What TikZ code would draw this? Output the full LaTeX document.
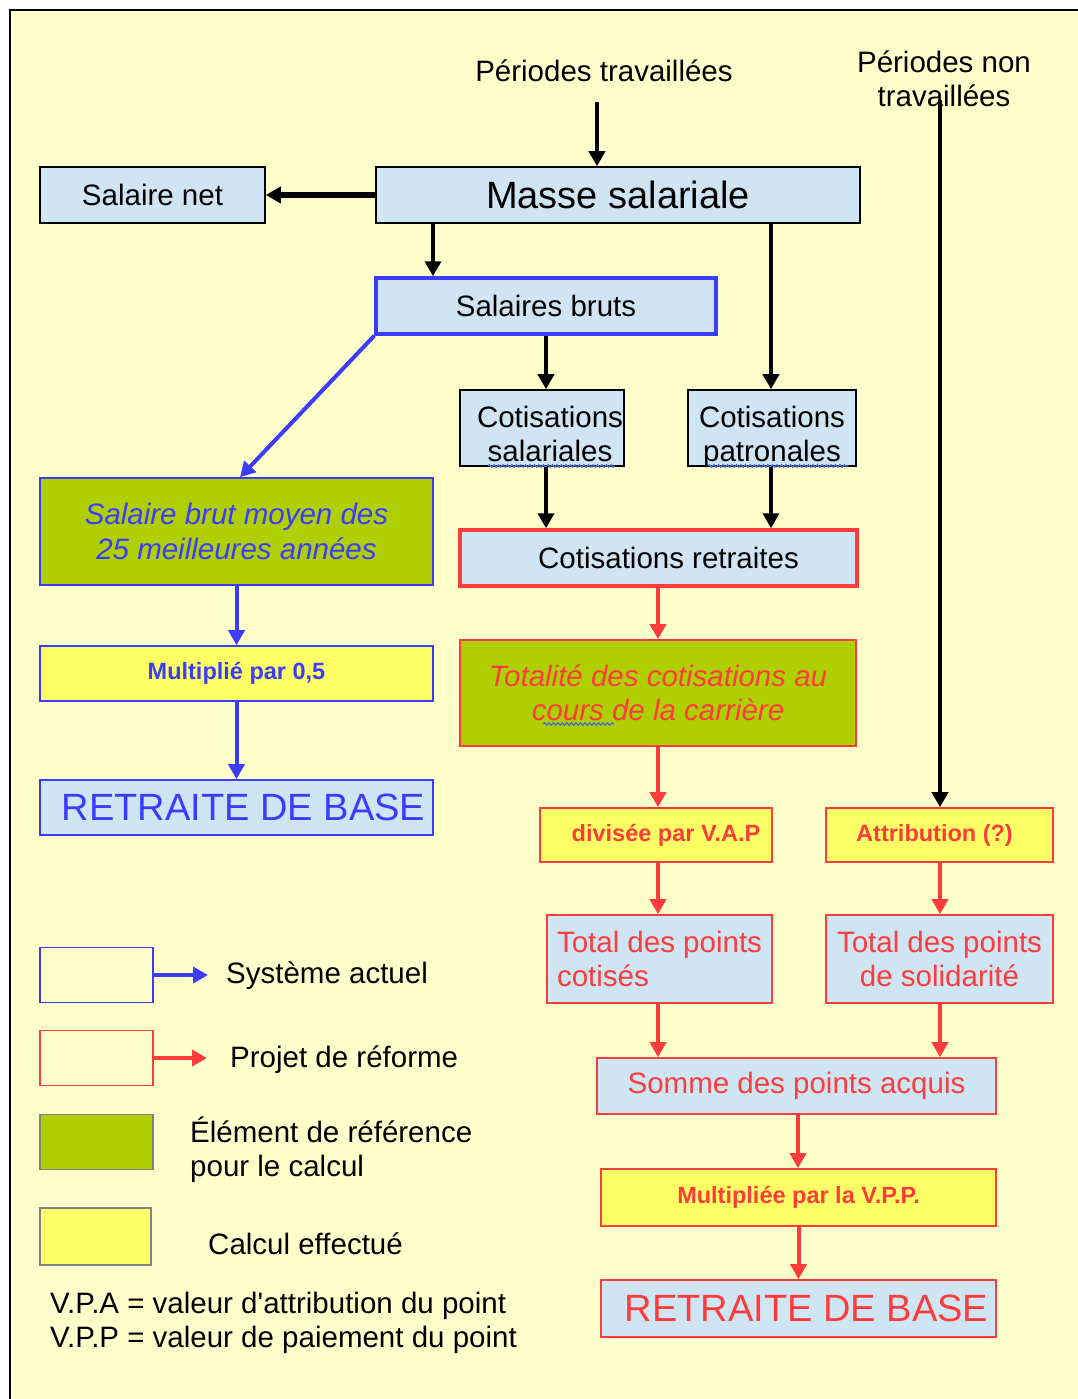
\documentclass[tikz,border=0pt]{standalone}
\usepackage{fontspec}
\setmainfont{Liberation Sans}
\newfontfamily\apos{Liberation Sans}
\usetikzlibrary{arrows.meta,decorations.pathmorphing}

\definecolor{fond}{RGB}{255,255,204}
\definecolor{bleuclair}{RGB}{207,229,244}
\definecolor{vert}{RGB}{176,207,0}
\definecolor{jaune}{RGB}{255,255,102}
\definecolor{bleu}{RGB}{60,60,255}
\definecolor{rouge}{RGB}{255,60,60}
\definecolor{gris}{RGB}{130,130,130}
\definecolor{souligne}{RGB}{70,110,210}

\newcommand{\txtnormal}{\fontsize{29.5}{34.5}\selectfont}
\newcommand{\txtgrand}{\fontsize{38}{44}\selectfont}
\newcommand{\txtcalcul}{\fontsize{23.5}{28}\selectfont\bfseries}
\newcommand{\deuxlignes}[2]{\raisebox{-16pt}[0pt][0pt]{\begin{tabular}{@{}c@{}}#1\\#2\end{tabular}}}

\tikzstyle{block} = [rectangle, draw=black, line width=1.6pt, fill=bleuclair, text centered, inner sep=0pt, font=\txtnormal]
\tikzstyle{actuel} = [block, draw=bleu, text=bleu]
\tikzstyle{reforme} = [block, draw=rouge, text=rouge]
\tikzstyle{reference} = [fill=vert, font=\txtnormal\itshape]
\tikzstyle{calcul} = [fill=jaune, font=\txtcalcul]
\tikzstyle{arrow} = [line width=4pt, -{Triangle[length=15pt,width=16pt]}]
\tikzstyle{bluearrow} = [arrow, bleu]
\tikzstyle{redarrow} = [arrow, rouge]
\tikzstyle{spell} = [souligne, line width=1.2pt, decorate, decoration={snake, amplitude=1.3pt, segment length=4.5pt}]
\tikzstyle{legend} = [rectangle, line width=1.6pt, minimum width=113pt, minimum height=55pt, inner sep=0pt]
\tikzstyle{plain} = [font=\txtnormal, inner sep=0pt]

\begin{document}
\begin{tikzpicture}[x=1pt, y=-1pt]
\useasboundingbox (0,0) rectangle (1078,1399);
\fill [fond] (10,10) rectangle (1078,1399);
\draw [line width=1.6pt] (10,1399) -- (10,10) -- (1078,10);

\node (pertrav) [plain] at (604,71) {Périodes travaillées};
\node (pernon) [plain, align=center] at (944,79) {Périodes non\\travaillées};

\node (salnet) [block, minimum width=225pt, minimum height=56pt] at (152.5,195) {Salaire net};
\node (masse) [block, minimum width=484pt, minimum height=56pt, font=\txtgrand] at (618,195) {Masse salariale};
\node (bruts) [block, draw=bleu, line width=3.5pt, minimum width=340pt, minimum height=56pt] at (546,306) {Salaires bruts};
\node (cotsal) [block, minimum width=164pt, minimum height=76pt] at (542,428) {\hspace*{16pt}\deuxlignes{Cotisations}{salariales}};
\node (cotpat) [block, minimum width=168pt, minimum height=76pt] at (772,428) {\deuxlignes{Cotisations}{patronales}};
\node (cotret) [block, draw=rouge, line width=3.5pt, minimum width=397pt, minimum height=56pt] at (658.5,558) {\hspace*{20pt}Cotisations retraites};
\node (totalite) [reforme, reference, align=center, minimum width=396pt, minimum height=106pt] at (658,693) {Totalité des cotisations au\\cours de la carrière};
\node (divisee) [reforme, calcul, minimum width=232pt, minimum height=54pt] at (656,835) {\hspace*{20pt}divisée par V.A.P};
\node (attrib) [reforme, calcul, minimum width=227pt, minimum height=54pt] at (939.5,835) {Attribution (?)\hspace*{10pt}};
\node (totcot) [reforme, align=left, minimum width=225pt, minimum height=88pt] at (659.5,959) {Total des points\\cotisés};
\node (totsol) [reforme, align=center, minimum width=227pt, minimum height=88pt] at (939.5,959) {Total des points\\de solidarité};
\node (somme) [reforme, minimum width=399pt, minimum height=56pt] at (796.5,1086) {Somme des points acquis};
\node (multvpp) [reforme, calcul, minimum width=395pt, minimum height=57pt] at (798.5,1197.5) {Multipliée par la V.P.P.};
\node (retreforme) [reforme, minimum width=395pt, minimum height=57pt, font=\txtgrand] at (798.5,1308.5) {\hspace*{16pt}RETRAITE DE BASE};

\node (sbm) [actuel, reference, align=center, minimum width=393pt, minimum height=107pt] at (236.5,531.5) {Salaire brut moyen des\\25 meilleures années};
\node (mult05) [actuel, calcul, minimum width=393pt, minimum height=55pt] at (236.5,673.5) {Multiplié par 0,5};
\node (retactuel) [actuel, minimum width=393pt, minimum height=55pt, font=\txtgrand] at (236.5,807.5) {\hspace*{14pt}RETRAITE DE BASE};

\draw [spell] (488,466) -- (615,466);
\draw [spell] (708,466) -- (848,466);
\draw [spell] (543,724) -- (614,724);

\draw [arrow] ([yshift=-20pt]pertrav.south -| 597,0) -- (masse.north -| 597,0);
\draw [arrow, line width=5pt] (masse.west) -- (salnet.east);
\draw [arrow] (masse.south -| 433,0) -- (bruts.north -| 433,0);
\draw [arrow] (masse.south -| 771,0) -- (cotpat.north -| 771,0);
\draw [arrow] (bruts.south -| 546,0) -- (cotsal.north -| 546,0);
\draw [arrow] (cotsal.south -| 546,0) -- (cotret.north -| 546,0);
\draw [arrow] (cotpat.south -| 771,0) -- (cotret.north -| 771,0);
\draw [arrow] ([yshift=-21pt]pernon.center -| 940,0) -- (attrib.north -| 940,0);

\draw [bluearrow] (bruts.south west) -- (sbm.north -| 240,0);
\draw [bluearrow] (sbm) -- (mult05);
\draw [bluearrow] (mult05) -- (retactuel);

\draw [redarrow] (cotret.south -| 658,0) -- (totalite.north -| 658,0);
\draw [redarrow] (totalite.south -| 658,0) -- (divisee.north -| 658,0);
\draw [redarrow] (divisee.south -| 658,0) -- (totcot.north -| 658,0);
\draw [redarrow] (attrib.south -| 940,0) -- (totsol.north -| 940,0);
\draw [redarrow] (totcot.south -| 658,0) -- (somme.north -| 658,0);
\draw [redarrow] (totsol.south -| 940,0) -- (somme.north -| 940,0);
\draw [redarrow] (somme.south -| 798,0) -- (multvpp.north -| 798,0);
\draw [redarrow] (multvpp) -- (retreforme);

\node (legactuel) [legend, draw=bleu] at (96.5,975) {};
\node (legreforme) [legend, draw=rouge] at (96.5,1058) {};
\node (legref) [legend, draw=gris, fill=vert] at (96.5,1142) {};
\node (legcalcul) [legend, draw=gris, fill=jaune, minimum width=111pt, minimum height=57pt] at (95.5,1236.5) {};
\coordinate (actueltip) at (208,975);
\coordinate (reformetip) at (207,1058);
\draw [bluearrow] (legactuel.east) -- (actueltip);
\draw [redarrow] (legreforme.east) -- (reformetip);
\node (txtactuel) [plain, anchor=west] at (226,976) {Système actuel};
\node (txtreforme) [plain, anchor=west] at (230,1060) {Projet de réforme};
\node (txtref) [plain, anchor=west, align=left] at (190,1150) {Élément de référence\\pour le calcul};
\node (txtcalcul) [plain, anchor=west] at (208,1244) {Calcul effectué};
\node (txtvaleurs) [plain, anchor=west, align=left] at (50,1323) {V.P.A = valeur d{\apos'}attribution du point\\V.P.P = valeur de paiement du point};
\end{tikzpicture}
\end{document}
